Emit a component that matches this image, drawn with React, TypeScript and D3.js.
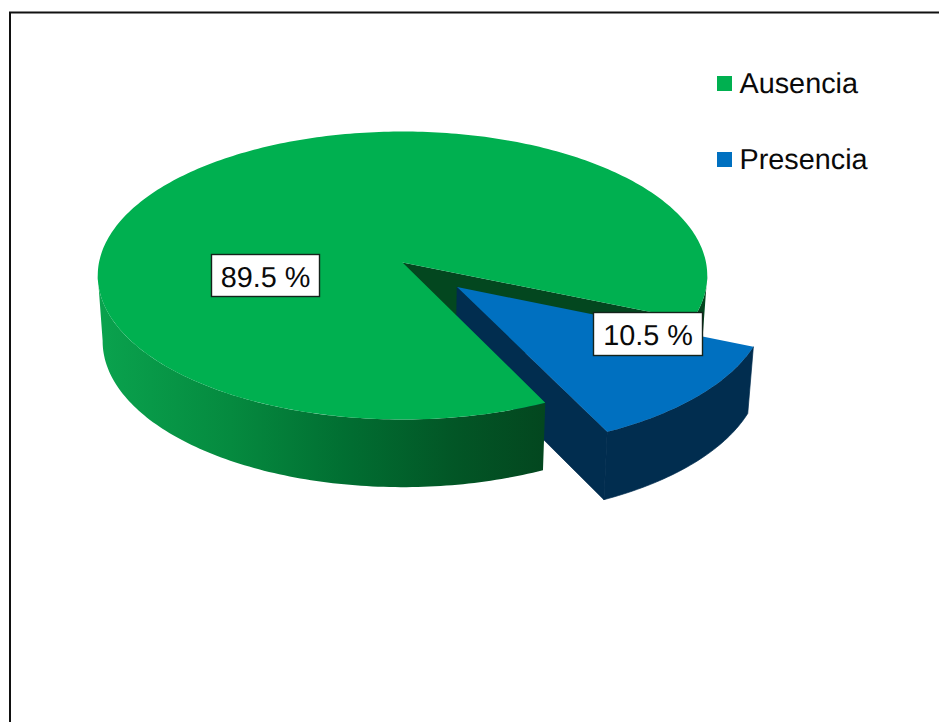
import React from "react";
import * as d3 from "d3";

const categories = ["Ausencia", "Presencia"];
const shares = [89.5, 10.5];
const valueLabels = ["89.5 %", "10.5 %"];
const topColors = ["#00b050", "#0070c0"];
const wallColor = "#012d4f";
const darkGreen = "#03471f";

const W = 939;
const H = 722;
const rad = Math.PI / 180;

// perspective projection of the pie plane
const apexX = 402.5;
const apexY = 262.5;
const kx = 303.5;
const ky = 119.1;
const persp = -0.0903;
const project = (u: number, v: number): [number, number] => {
  const w = 1 + persp * v;
  return [apexX + (kx * u) / w, (ky * v + apexY) / w];
};
const drop = ([x, y]: [number, number]): [number, number] => [
  402.5 + (x - 402.5) * 0.984,
  y + 62 + 0.0135 * y,
];

const pieGen = d3.pie<number>().sort(null).value((d) => d);
const arcs = pieGen(shares);
// pie angle -> drawn angle (degrees clockwise from the front of the disc)
const angleScale = d3
  .scaleLinear()
  .domain([0, arcs[0].endAngle, 2 * Math.PI])
  .range([67, 385.6, 427]);

const line = d3.line<[number, number]>();

const rim = (a0: number, a1: number, ox = 0, oy = 0): [number, number][] => {
  const n = Math.max(2, Math.ceil(Math.abs(a1 - a0)));
  return d3.range(n + 1).map((i) => {
    const a = (a0 + ((a1 - a0) * i) / n) * rad;
    return project(Math.sin(a) + ox, Math.cos(a) + oy);
  });
};

const wall = (pts: [number, number][]) =>
  (line([...pts, ...pts.slice().reverse().map(drop)]) as string) + "Z";

const gStart = angleScale(arcs[0].startAngle);
const gEnd = angleScale(arcs[0].endAngle);
const bStart = angleScale(arcs[1].startAngle) - 360;
const bEnd = angleScale(arcs[1].endAngle) - 360;

const bMid = ((bStart + bEnd) / 2) * rad;
const explode = 0.245;
const ox = Math.sin(bMid) * explode;
const oy = Math.cos(bMid) * explode;

const greenApex = project(0, 0);
const blueApex = project(ox, oy);

const greenTop = (line([greenApex, ...rim(gStart, gEnd)]) as string) + "Z";
const blueRim = rim(bStart, bEnd, ox, oy);
const blueTop = (line([blueApex, ...blueRim]) as string) + "Z";

const greenFrontWall = wall(rim(275, gEnd));
const greenRightWall = wall(rim(gStart, 85));
const greenCutFace = wall([greenApex, project(Math.sin(gStart * rad), Math.cos(gStart * rad))]);
const blueArcWall = wall(blueRim);
const blueCutFace = wall([blueApex, blueRim[0]]);

const boxes = [
  { x: 211, y: 254, w: 108, h: 42 },
  { x: 593, y: 312, w: 109, h: 43 },
];
const legendY = [76, 152];
const FONT = "'Liberation Sans', Arial, sans-serif";

export default function App() {
  return (
    <svg
      width={W}
      height={H}
      viewBox={`0 0 ${W} ${H}`}
      style={{ position: "absolute", left: 0, top: 0, background: "#fff" }}
    >
      <defs>
        <linearGradient id="gw" gradientUnits="userSpaceOnUse" x1={97} x2={543} y1={0} y2={0}>
          <stop offset="0" stopColor="#0aa34e" />
          <stop offset="0.3" stopColor="#058a3f" />
          <stop offset="0.55" stopColor="#016f32" />
          <stop offset="0.8" stopColor="#025626" />
          <stop offset="1" stopColor={darkGreen} />
        </linearGradient>
      </defs>
      <path d="M10,722V12.5H939" fill="none" stroke="#111" strokeWidth={2} />

      <path d={greenRightWall} fill={darkGreen} />
      <path d={greenCutFace} fill={darkGreen} />
      <path d={blueCutFace} fill={wallColor} stroke={wallColor} strokeWidth={0.7} />
      <path d={blueArcWall} fill={wallColor} stroke={wallColor} strokeWidth={0.7} />
      <path d={blueTop} fill={topColors[1]} />
      <path d={greenFrontWall} fill="url(#gw)" />
      <path d={greenTop} fill={topColors[0]} />

      {categories.map((c, i) => (
        <g key={c}>
          <rect x={717} y={legendY[i]} width={15} height={15} fill={topColors[i]} />
          <text
            x={739.5}
            y={legendY[i] + 16.5}
            fontFamily={FONT}
            fontSize={28.8}
            fill="#0a0a0a"
            textRendering="geometricPrecision"
          >
            {c}
          </text>
        </g>
      ))}

      {boxes.map((b, i) => (
        <g key={valueLabels[i]}>
          <rect x={b.x + 0.5} y={b.y + 0.5} width={b.w} height={b.h} fill="#fff" stroke="#14231b" strokeWidth={1.4} />
          <text
            x={b.x + b.w / 2 + 0.5}
            y={b.y + 33}
            textAnchor="middle"
            fontFamily={FONT}
            fontSize={28.8}
            fill="#0a0a0a"
            textRendering="geometricPrecision"
          >
            {valueLabels[i]}
          </text>
        </g>
      ))}
    </svg>
  );
}
